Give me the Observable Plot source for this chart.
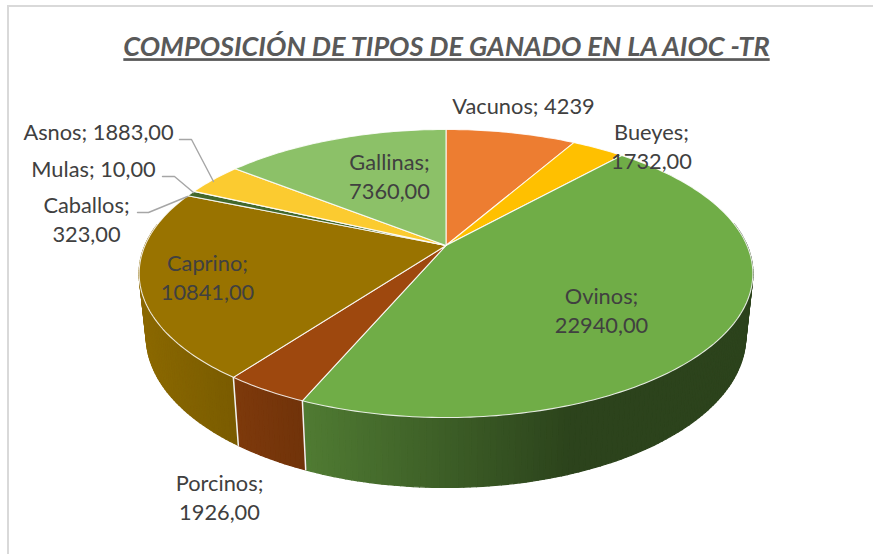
<!DOCTYPE html>
<html>
<head>
<meta charset="utf-8">
<script src="https://cdn.jsdelivr.net/npm/d3@7"></script>
<script src="https://cdn.jsdelivr.net/npm/@observablehq/plot@0.6"></script>
<style>
html,body{margin:0;padding:0;background:#fff}
svg{display:block}
.chart-title text{text-decoration:underline}
</style>
</head>
<body>
<div id="chart"></div>
<script>
const categories = ["Vacunos","Bueyes","Ovinos","Porcinos","Caprino","Caballos","Mulas","Asnos","Gallinas"];
const values = [4239,1732,22940,1926,10841,323,10,1883,7360];
const valueLabels = ["4239","1732,00","22940,00","1926,00","10841,00","323,00","10,00","1883,00","7360,00"];
const sliceColors = ["#ED7D31","#FFC000","#70AD47","#9E480E","#997300","#43682B","#E8E8E8","#FBCB30","#8CC168"];
const titleText = "COMPOSICIÓN DE TIPOS DE GANADO EN LA AIOC -TR";

// layout: label anchor x, y and whether the label breaks after the semicolon; indexes follow categories
const labelX = [523,651,601,219,207,86,93,98,389];
const labelY = [104,144.5,308.5,495.5,276,217.5,167,130,174.5];
const labelBreak = [false,true,true,true,true,true,false,false,true];
const labelRows = categories.map((c,i)=>({
  text: c + ";" + (labelBreak[i] ? "\n" : " ") + valueLabels[i],
  x: labelX[i], y: labelY[i]
}));
const leaderLines = [
  {name:"Asnos",   pts:[[179,139],[191,139],[213,181]]},
  {name:"Mulas",   pts:[[162,176],[174,176],[193,192]]},
  {name:"Caballos",pts:[[137,212],[148,212],[187,196]]}
];

const W = 873, H = 554;
// perspective disc: top face and bottom face of the pie
const persp = 0.1944;
const topFace = {cx:445.5, cy:245, R:301, h:138.6};
const baseFace = {cx:445.5, cy:306.6, R:294, h:145.3};
function project(f, deg){
  const a = deg*Math.PI/180, u = Math.sin(a), v = -Math.cos(a), d = 1 - persp*v;
  return [f.cx + f.R*u/d, f.cy + f.h*v/d, v];
}
const total = d3.sum(values);
const cum = [0, ...d3.cumsum(values)].map(c => c/total*360);

function shade(color, x){
  const f = Math.max(0.39, Math.min(0.95, 0.9 - 0.0012*(x-145)));
  const c = d3.rgb(color);
  return d3.rgb(c.r*f, c.g*f, c.b*f).formatHex();
}

// top-face polygons
const topPts = [];
categories.forEach((c,i)=>{
  const a0 = cum[i], a1 = cum[i+1];
  topPts.push({id:c, x:topFace.cx, y:topFace.cy, fill:sliceColors[i]});
  const n = Math.max(1, Math.ceil(a1-a0));
  for(let j=0;j<=n;j++){
    const p = project(topFace, a0+(a1-a0)*j/n);
    topPts.push({id:c, x:p[0], y:p[1], fill:sliceColors[i]});
  }
  topPts.push({id:c, x:topFace.cx, y:topFace.cy, fill:sliceColors[i]});
});

// side wall, a strip of small facets shaded across the width
const sidePts = [];
categories.forEach((c,i)=>{
  const a0 = cum[i], a1 = cum[i+1];
  const n = Math.max(1, Math.ceil(a1-a0));
  for(let j=0;j<n;j++){
    const b0 = a0+(a1-a0)*j/n, b1 = a0+(a1-a0)*(j+1)/n;
    const t0 = project(topFace,b0), t1 = project(topFace,b1), g0 = project(baseFace,b0), g1 = project(baseFace,b1);
    if(Math.max(t0[2],t1[2]) < -0.15) continue;
    const col = shade(sliceColors[i], (t0[0]+t1[0])/2);
    const id = c+"-"+j;
    [t0,t1,g1,g0,t0].forEach(p=>sidePts.push({id, x:p[0], y:p[1], fill:col}));
  }
});

// white seams on the front wall at slice edges that face the viewer
const seamPts = [];
categories.forEach((c,i)=>{
  const p = project(topFace,cum[i]);
  if(p[2] > 0.3){
    const g = project(baseFace,cum[i]);
    seamPts.push({id:c,x:p[0],y:p[1]},{id:c,x:g[0],y:g[1]});
  }
});

const leaderPts = leaderLines.flatMap(l=>l.pts.map(p=>({id:l.name,x:p[0],y:p[1]})));

const frame = [{x1:8,y1:6,x2:W+5,y2:H+5}];

const plot = Plot.plot({
  width:W, height:H, margin:0,
  x:{axis:null, domain:[0,W], range:[0,W]},
  y:{axis:null, domain:[0,H], range:[0,H]},
  style:{fontFamily:"Lato, 'Open Sans', sans-serif", background:"#fff", overflow:"hidden"},
  marks:[
    Plot.rect(frame,{x1:"x1",y1:"y1",x2:"x2",y2:"y2",fill:"none",stroke:"#d9d9d9",strokeWidth:2}),
    Plot.line(sidePts,{x:"x",y:"y",z:"id",fill:"fill",stroke:"fill",strokeWidth:1.3,curve:"linear"}),
    Plot.line(seamPts,{x:"x",y:"y",z:"id",stroke:"#f2f2f2",strokeWidth:1.5}),
    Plot.line(topPts,{x:"x",y:"y",z:"id",fill:"fill",stroke:"#ffffff",strokeWidth:1.1,strokeOpacity:0.85,strokeLinejoin:"round",curve:"linear"}),
    Plot.line(leaderPts,{x:"x",y:"y",z:"id",stroke:"#a6a6a6",strokeWidth:1.4}),
    Plot.text(labelRows,{x:"x",y:"y",text:"text",fill:"#404040",fontSize:21.8,lineHeight:1.33,textAnchor:"middle",lineAnchor:"middle"}),
    Plot.text([titleText],{x:()=>446,y:()=>47,text:d=>d,fill:"#595959",fontSize:27.1,fontStyle:"italic",fontWeight:700,textAnchor:"middle",lineAnchor:"middle",className:"chart-title"})
  ]
});
document.getElementById("chart").appendChild(plot);
</script>
</body>
</html>
